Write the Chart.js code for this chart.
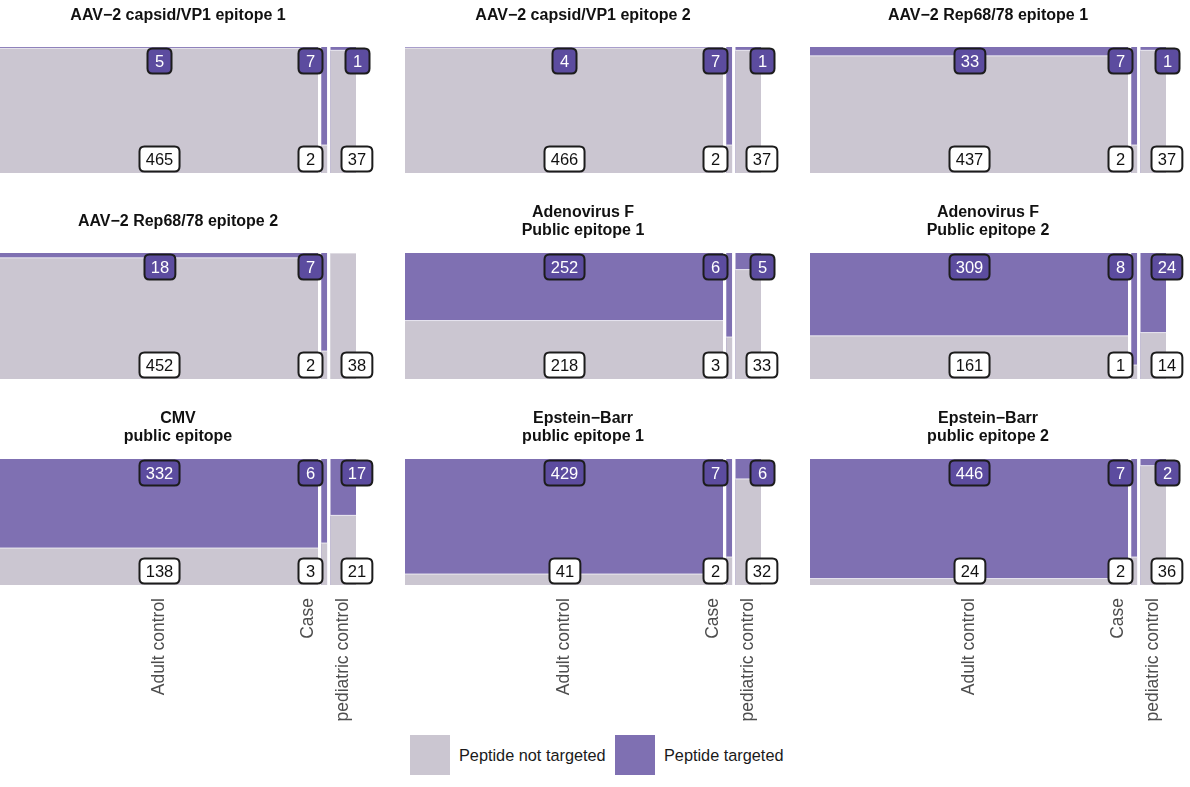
<!DOCTYPE html>
<html><head><meta charset="utf-8">
<script src="https://cdn.jsdelivr.net/npm/chart.js@4.4.1/dist/chart.umd.min.js"></script>
<style>
html,body{margin:0;padding:0;background:#fff;width:1190px;height:787px;overflow:hidden;position:relative;font-family:"Liberation Sans",Arial,Helvetica,sans-serif;}
canvas{position:absolute;}
.sw{position:absolute;width:40px;height:40px;top:735px;}
.lt{position:absolute;top:745px;font-size:16.3px;line-height:20px;color:#1a1a1a;white-space:nowrap;}
</style></head><body>
<div id="legend"></div>
<script>
// ---- data ----
const panelTitles = [
  ["AAV\u22122 capsid/VP1 epitope 1"],
  ["AAV\u22122 capsid/VP1 epitope 2"],
  ["AAV\u22122 Rep68/78 epitope 1"],
  ["AAV\u22122 Rep68/78 epitope 2"],
  ["Adenovirus F","Public epitope 1"],
  ["Adenovirus F","Public epitope 2"],
  ["CMV","public epitope"],
  ["Epstein\u2212Barr","public epitope 1"],
  ["Epstein\u2212Barr","public epitope 2"]
];
const groupLabels = ["Adult control","Case","pediatric control"];
const adultTargeted    = [5, 4, 33, 18, 252, 309, 332, 429, 446];
const adultNotTargeted = [465, 466, 437, 452, 218, 161, 138, 41, 24];
const caseTargeted     = [7, 7, 7, 7, 6, 8, 6, 7, 7];
const caseNotTargeted  = [2, 2, 2, 2, 3, 1, 3, 2, 2];
const pedTargeted      = [1, 1, 1, 0, 5, 24, 17, 6, 2];
const pedNotTargeted   = [37, 37, 37, 38, 33, 14, 21, 32, 36];
const legendLabels = ["Peptide not targeted","Peptide targeted"];

// ---- style / layout ----
const COL_TARGET = '#7f70b2', COL_NOT = '#cbc6d1', COL_LABEL_T = '#5c4c9f';
const FONT = '"Liberation Sans", Arial, Helvetica, sans-serif';
const GAP = 4.5;
const PANEL_X = [0, 405, 810], PANEL_Y = [47, 253, 459];
const AREA_W = 356, AREA_H = 126, PAD_X = 22, TITLE_BLOCK = 53;
const LABEL_SHIFT = [0, -14, 13.5];
const AXIS_SHIFT = [0, -16, 0];

function rrect(ctx, x, y, w, h, r) {
  ctx.beginPath();
  ctx.moveTo(x + r, y);
  ctx.lineTo(x + w - r, y); ctx.quadraticCurveTo(x + w, y, x + w, y + r);
  ctx.lineTo(x + w, y + h - r); ctx.quadraticCurveTo(x + w, y + h, x + w - r, y + h);
  ctx.lineTo(x + r, y + h); ctx.quadraticCurveTo(x, y + h, x, y + h - r);
  ctx.lineTo(x, y + r); ctx.quadraticCurveTo(x, y, x + r, y);
  ctx.closePath();
}
function labelBox(ctx, txt, cx, y, targeted) {
  ctx.font = '16.5px ' + FONT;
  const tw = ctx.measureText(txt).width;
  const w = Math.max(24, tw + 12.5), h = 25;
  const x = Math.round(cx - w / 2) + 0.5;
  rrect(ctx, x, y, w, h, 5);
  ctx.fillStyle = targeted ? COL_LABEL_T : '#ffffff';
  ctx.fill();
  ctx.lineWidth = 2; ctx.strokeStyle = '#1c1c1c'; ctx.stroke();
  ctx.fillStyle = targeted ? '#ffffff' : '#111111';
  ctx.textAlign = 'center'; ctx.textBaseline = 'alphabetic';
  ctx.fillText(txt, x + w / 2, y + h / 2 + 6);
}

const mosaicPlugin = {
  id: 'mosaicLabels',
  afterDatasetsDraw(chart, args, opts) {
    const ctx = chart.ctx, xs = chart.scales.x, ys = chart.scales.y;
    const top = ys.getPixelForValue(1), bot = ys.getPixelForValue(0);
    ctx.save();
    opts.columns.forEach((c, i) => {
      const cx = xs.getPixelForValue((c.x0 + c.x1) / 2) + LABEL_SHIFT[i];
      if (c.t > 0) labelBox(ctx, String(c.t), cx, top + 1.5, true);
      if (c.n > 0) labelBox(ctx, String(c.n), cx, bot - 26.5, false);
    });
    if (opts.axis) {
      ctx.font = '17.5px ' + FONT;
      ctx.fillStyle = '#4d4d4d';
      ctx.textAlign = 'right'; ctx.textBaseline = 'middle';
      opts.columns.forEach((c, i) => {
        const cx = xs.getPixelForValue((c.x0 + c.x1) / 2) + AXIS_SHIFT[i];
        ctx.save();
        ctx.translate(cx, bot + 13);
        ctx.rotate(-Math.PI / 2);
        ctx.fillText(groupLabels[i], 0, 0);
        ctx.restore();
      });
    }
    ctx.restore();
  }
};

for (let p = 0; p < 9; p++) {
  const row = Math.floor(p / 3), col = p % 3;
  const counts = [
    [adultTargeted[p], adultNotTargeted[p]],
    [caseTargeted[p], caseNotTargeted[p]],
    [pedTargeted[p], pedNotTargeted[p]]
  ];
  let x = 0; const columns = [];
  counts.forEach((c, i) => {
    const tot = c[0] + c[1];
    columns.push({ x0: x, x1: x + tot, t: c[0], n: c[1], pNot: c[1] / tot });
    x += tot + GAP;
  });
  const total = x - GAP;
  const grayDs = columns.map(c => ({
    data: [{ x: c.x0, y: c.pNot }, { x: c.x1, y: c.pNot }],
    showLine: true, fill: 'origin', backgroundColor: COL_NOT,
    borderColor: 'rgba(255,255,255,0.75)', borderWidth: 1, pointRadius: 0, pointHoverRadius: 0
  }));
  const purpleDs = columns.map(c => ({
    data: [{ x: c.x0, y: 1 }, { x: c.x1, y: 1 }],
    showLine: true, fill: 'origin', backgroundColor: c.t > 0 ? COL_TARGET : COL_NOT,
    borderWidth: 0, pointRadius: 0, pointHoverRadius: 0
  }));
  const bottomPad = row === 2 ? 150 : 4;
  const cv = document.createElement('canvas');
  const W = AREA_W + 2 * PAD_X, H = TITLE_BLOCK + AREA_H + bottomPad;
  cv.width = W; cv.height = H;
  cv.style.left = (PANEL_X[col] - PAD_X) + 'px';
  cv.style.top = (PANEL_Y[row] - TITLE_BLOCK) + 'px';
  cv.style.width = W + 'px'; cv.style.height = H + 'px';
  document.body.appendChild(cv);
  const two = panelTitles[p].length > 1;
  new Chart(cv, {
    type: 'scatter',
    data: { datasets: grayDs.concat(purpleDs) },
    options: {
      responsive: false, animation: false, devicePixelRatio: 1, events: [],
      layout: { padding: { left: PAD_X, right: PAD_X, top: 0, bottom: bottomPad } },
      scales: {
        x: { type: 'linear', min: 0, max: total, display: false },
        y: { type: 'linear', min: 0, max: 1, display: false }
      },
      plugins: {
        legend: { display: false }, tooltip: { enabled: false },
        title: {
          display: true, text: panelTitles[p], color: '#111111',
          font: { family: FONT, size: 16, weight: 'bold', lineHeight: '18px' },
          padding: two ? { top: 4, bottom: 13 } : { top: 13, bottom: 22 }
        },
        mosaicLabels: { columns: columns, axis: row === 2 }
      }
    },
    plugins: [mosaicPlugin]
  });
}

// legend
const lg = document.getElementById('legend');
[[COL_NOT, 410, 459], [COL_TARGET, 615, 664]].forEach((s, i) => {
  const sw = document.createElement('div'); sw.className = 'sw';
  sw.style.left = s[1] + 'px'; sw.style.background = s[0]; lg.appendChild(sw);
  const t = document.createElement('div'); t.className = 'lt';
  t.style.left = s[2] + 'px'; t.textContent = legendLabels[i]; lg.appendChild(t);
});
</script>
</body></html>
